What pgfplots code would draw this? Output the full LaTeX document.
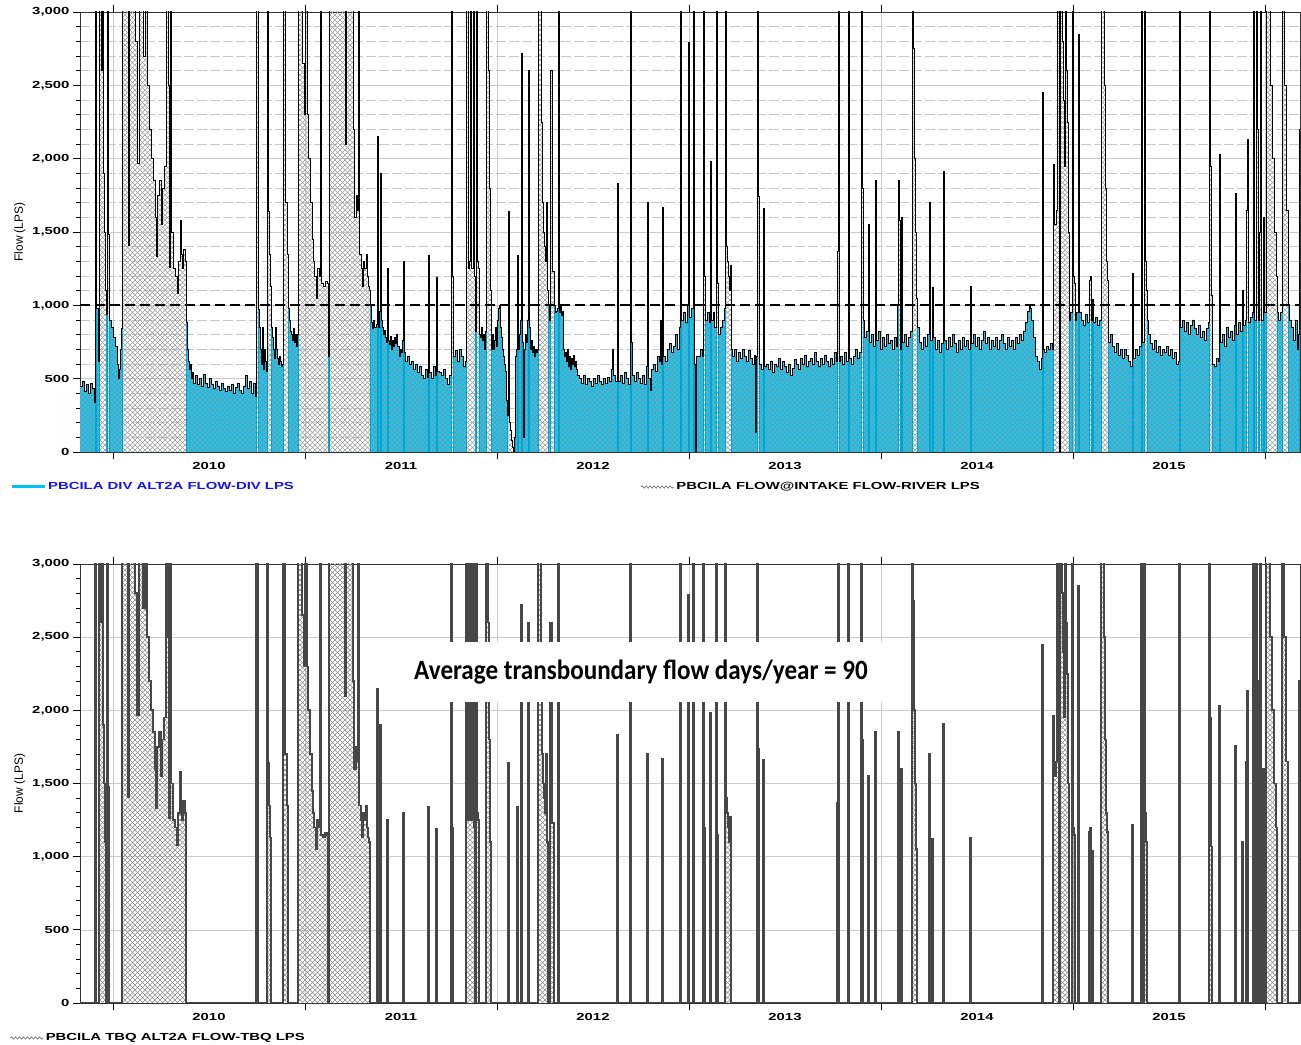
\documentclass[border=0pt]{standalone}
\usepackage{fontspec}
\setmainfont{Liberation Sans}
\newfontfamily\tickfont[FakeStretch=1.45]{Liberation Sans}
\newfontfamily\bigfont[FakeStretch=0.9]{Carlito}
\usepackage{pgfplots}
\pgfplotsset{compat=1.18}
\usepackage{pgfplotstable}
\usetikzlibrary{patterns,decorations.pathmorphing}

\definecolor{divblue}{RGB}{0,195,245}
\definecolor{legblue}{RGB}{20,20,240}

\pgfdeclarepatternformonly{xhatch}{\pgfqpoint{-1bp}{-1bp}}{\pgfqpoint{6bp}{6bp}}{\pgfqpoint{5bp}{5bp}}{%
 \pgfsetlinewidth{0.4bp}%
 \pgfpathmoveto{\pgfqpoint{0bp}{0bp}}\pgfpathlineto{\pgfqpoint{5.1bp}{5.1bp}}%
 \pgfpathmoveto{\pgfqpoint{0bp}{5bp}}\pgfpathlineto{\pgfqpoint{5.1bp}{-0.1bp}}%
 \pgfusepath{stroke}}

% x = position along the time axis (year boundaries at 113,305,497,689,881,1073,1265)
% r = river flow at intake, d = diversion flow, t = transboundary flow (LPS); 4000 = off scale
\pgfplotstableread{
x r d t
80 450 450 0
82 480 480 0
84 410 410 0
86 460 460 0
88 400 400 0
90 470 470 0
92 430 430 0
94 340 340 0
95 4000 0 4000
96 980 980 0
98 620 620 0
99 4000 0 4000
101 2600 0 2600
102 4000 0 4000
103 1900 0 1900
104 1500 0 1500
105 1100 0 1100
106 940 940 0
107 4000 0 4000
108 1480 0 1480
109 900 900 0
111 850 850 0
113 780 780 0
115 720 720 0
117 600 600 0
118 500 500 0
119 560 560 0
120 700 700 0
121 840 840 0
122 4000 0 4000
128 1410 0 1410
129 4000 0 4000
135 2800 0 2800
137 1970 0 1970
139 4000 0 4000
143 2700 0 2700
145 4000 0 4000
147 2500 0 2500
149 2200 0 2200
151 2000 0 2000
153 1850 0 1850
155 1600 0 1600
156 1330 0 1330
157 1750 0 1750
159 1850 0 1850
161 1550 0 1550
162 1800 0 1800
164 1950 0 1950
166 4000 0 4000
168 2500 0 2500
169 1260 0 1260
170 4000 0 4000
171 1500 0 1500
173 1250 0 1250
175 1200 0 1200
177 1080 0 1080
178 1300 0 1300
180 1580 0 1580
181 1350 0 1350
182 1250 0 1250
183 1380 0 1380
185 1300 0 1300
186 880 880 0
187 700 700 0
188 620 620 0
189 560 560 0
190 600 600 0
191 500 500 0
192 540 540 0
193 470 470 0
195 520 520 0
197 460 460 0
199 500 500 0
201 450 450 0
203 530 530 0
205 470 470 0
207 440 440 0
209 500 500 0
211 460 460 0
213 430 430 0
215 480 480 0
217 450 450 0
219 420 420 0
221 470 470 0
223 430 430 0
225 410 410 0
227 450 450 0
229 420 420 0
231 460 460 0
233 400 400 0
235 440 440 0
237 470 470 0
239 420 420 0
241 400 400 0
243 450 450 0
245 520 520 0
247 430 430 0
249 480 480 0
251 400 400 0
253 470 470 0
255 380 380 0
256 4000 0 4000
258 970 970 0
259 850 850 0
260 700 700 0
261 600 600 0
262 850 850 0
263 560 560 0
264 700 700 0
265 620 620 0
266 550 550 0
267 4000 0 4000
268 1640 0 1640
269 1350 0 1350
270 1130 0 1130
271 850 850 0
272 780 780 0
273 700 700 0
274 640 640 0
275 850 850 0
276 700 700 0
277 640 640 0
278 600 600 0
279 650 650 0
280 620 620 0
281 580 580 0
282 600 600 0
283 4000 0 4000
285 1700 0 1700
287 1350 0 1350
288 980 980 0
289 900 900 0
290 820 820 0
291 800 800 0
292 760 760 0
293 840 840 0
294 750 750 0
295 800 800 0
296 720 720 0
297 800 800 0
298 4000 0 4000
302 2650 0 2650
304 2300 0 2300
305 4000 0 4000
307 2300 0 2300
308 2000 0 2000
310 1700 0 1700
312 1450 0 1450
313 1300 0 1300
314 1200 0 1200
316 1050 0 1050
317 1250 0 1250
319 1200 0 1200
320 4000 0 4000
321 1150 0 1150
323 1130 0 1130
325 1160 0 1160
327 1150 0 1150
328 650 650 0
329 4000 0 4000
345 2100 0 2100
346 4000 0 4000
353 2200 0 2200
354 1600 0 1600
356 1750 0 1750
357 1650 0 1650
358 4000 0 4000
359 1350 0 1350
361 1250 0 1250
362 1130 0 1130
363 1300 0 1300
364 1250 0 1250
366 1350 0 1350
367 1200 0 1200
368 1130 0 1130
369 1100 0 1100
370 1000 1000 0
371 880 880 0
372 840 840 0
373 900 900 0
374 850 850 0
376 870 870 0
377 2150 0 2150
378 850 850 0
379 960 960 0
380 1900 0 1900
381 900 900 0
382 850 850 0
383 800 800 0
384 830 830 0
385 780 780 0
386 750 750 0
387 1250 0 1250
388 760 760 0
389 730 730 0
390 790 790 0
391 700 700 0
392 760 760 0
393 720 720 0
394 780 780 0
395 740 740 0
396 800 800 0
397 720 720 0
399 650 650 0
400 700 700 0
401 680 680 0
402 760 760 0
403 1300 0 1300
404 680 680 0
405 620 620 0
407 650 650 0
409 600 600 0
411 620 620 0
413 560 560 0
415 600 600 0
417 540 540 0
419 580 580 0
421 520 520 0
423 500 500 0
425 560 560 0
427 510 510 0
428 1340 0 1340
429 540 540 0
431 500 500 0
433 580 580 0
435 520 520 0
436 1190 0 1190
437 550 550 0
439 540 540 0
441 520 520 0
443 560 560 0
445 500 500 0
447 460 460 0
449 520 520 0
451 4000 0 4000
452 1200 0 1200
453 650 650 0
455 690 690 0
457 620 620 0
459 700 700 0
461 650 650 0
463 580 580 0
465 620 620 0
466 4000 0 4000
468 1250 0 1250
469 1300 0 1300
470 4000 0 4000
471 1250 0 1250
473 4000 0 4000
474 1200 0 1200
475 820 820 0
476 4000 0 4000
477 1300 0 1300
478 1250 0 1250
479 800 800 0
480 780 780 0
481 850 850 0
482 760 760 0
483 800 800 0
484 700 700 0
485 820 820 0
486 4000 0 4000
488 2600 0 2600
489 1800 0 1800
490 1100 0 1100
491 700 700 0
492 800 800 0
493 700 700 0
494 760 760 0
495 850 850 0
496 720 720 0
497 900 900 0
498 980 980 0
499 1000 1000 0
500 850 850 0
501 780 780 0
502 700 700 0
503 650 650 0
504 600 600 0
505 550 550 0
506 350 350 0
507 250 0 0
508 1640 0 1640
509 200 0 0
510 150 0 0
511 80 0 0
512 30 0 0
513 0 0 0
514 100 0 0
515 650 650 0
516 700 700 0
517 1340 0 1340
518 700 700 0
519 800 800 0
520 900 900 0
521 2720 0 2720
522 750 750 0
523 100 100 0
524 700 700 0
525 800 800 0
526 750 750 0
527 900 900 0
528 2600 0 2600
529 850 850 0
530 700 700 0
531 760 760 0
532 680 680 0
533 720 720 0
534 650 650 0
535 700 700 0
536 680 680 0
537 700 700 0
538 4000 0 4000
541 2250 0 2250
542 1700 0 1700
543 1500 0 1500
544 1400 0 1400
545 1300 0 1300
546 1700 0 1700
547 1100 0 1100
548 1000 1000 0
549 900 900 0
550 2600 0 2600
552 1230 0 1230
554 1000 1000 0
555 950 950 0
556 960 960 0
557 980 980 0
558 4000 0 4000
559 950 950 0
560 1000 1000 0
561 930 930 0
562 960 960 0
563 700 700 0
564 650 650 0
565 680 680 0
566 620 620 0
567 700 700 0
568 580 580 0
569 650 650 0
570 560 560 0
571 640 640 0
572 600 600 0
573 660 660 0
574 580 580 0
575 620 620 0
576 560 560 0
577 520 520 0
579 500 500 0
581 470 470 0
583 520 520 0
585 460 460 0
587 500 500 0
589 480 480 0
591 450 450 0
593 500 500 0
595 470 470 0
597 520 520 0
599 480 480 0
601 460 460 0
603 500 500 0
605 470 470 0
607 510 510 0
609 480 480 0
611 560 560 0
612 700 700 0
613 520 520 0
615 480 480 0
617 1830 0 1830
618 480 480 0
620 520 520 0
622 470 470 0
624 540 540 0
626 500 500 0
628 460 460 0
630 4000 0 4000
631 750 750 0
632 520 520 0
634 480 480 0
636 540 540 0
638 500 500 0
640 470 470 0
642 520 520 0
644 460 460 0
646 580 580 0
647 1700 0 1700
648 500 500 0
650 420 420 0
651 560 560 0
653 600 600 0
655 550 550 0
657 650 650 0
659 620 620 0
660 900 900 0
661 600 600 0
662 1670 0 1670
663 650 650 0
665 620 620 0
667 700 700 0
669 740 740 0
671 680 680 0
673 720 720 0
675 800 800 0
677 700 700 0
679 850 850 0
680 4000 0 4000
681 900 900 0
683 950 950 0
685 880 880 0
687 1000 1000 0
688 2790 0 2790
689 920 920 0
691 980 980 0
693 4000 0 4000
694 600 600 0
695 0 0 0
696 650 650 0
698 650 650 0
700 700 700 0
702 650 650 0
703 4000 0 4000
704 1200 0 1200
705 900 900 0
707 950 950 0
709 880 880 0
710 1980 0 1980
711 900 900 0
713 950 950 0
714 850 850 0
716 4000 0 4000
717 1150 0 1150
718 800 800 0
720 850 850 0
722 900 900 0
724 980 980 0
725 4000 0 4000
726 1400 0 1400
727 1300 0 1300
728 1200 0 1200
729 1100 0 1100
730 1270 0 1270
731 700 700 0
732 650 650 0
734 700 700 0
736 620 620 0
738 680 680 0
740 640 640 0
742 700 700 0
744 650 650 0
746 620 620 0
748 690 690 0
750 640 640 0
752 600 600 0
754 660 660 0
755 130 130 0
756 650 650 0
757 4000 0 4000
758 1740 0 1740
759 600 600 0
761 560 560 0
763 1660 0 1660
764 580 580 0
766 600 600 0
768 560 560 0
770 620 620 0
772 540 540 0
774 600 600 0
776 580 580 0
778 640 640 0
780 560 560 0
782 620 620 0
784 580 580 0
786 540 540 0
788 600 600 0
790 520 520 0
792 570 570 0
794 630 630 0
796 600 600 0
798 560 560 0
800 640 640 0
802 600 600 0
804 660 660 0
806 580 580 0
808 620 620 0
810 640 640 0
812 600 600 0
814 680 680 0
816 620 620 0
818 580 580 0
820 640 640 0
822 600 600 0
824 660 660 0
826 620 620 0
828 580 580 0
830 640 640 0
832 600 600 0
834 680 680 0
836 620 620 0
837 1370 0 1370
838 4000 0 4000
839 620 620 0
840 650 650 0
842 600 600 0
844 680 680 0
846 620 620 0
848 4000 0 4000
849 640 640 0
851 600 600 0
853 650 650 0
855 700 700 0
857 640 640 0
859 680 680 0
861 4000 0 4000
862 1800 0 1800
863 900 900 0
864 780 780 0
866 820 820 0
868 1550 0 1550
869 750 750 0
871 800 800 0
873 720 720 0
875 1850 0 1850
876 760 760 0
878 820 820 0
880 700 700 0
882 780 780 0
884 720 720 0
886 800 800 0
888 740 740 0
890 760 760 0
892 700 700 0
894 780 780 0
896 720 720 0
897 1000 1000 0
898 1850 0 1850
899 1580 0 1580
900 700 700 0
901 1600 0 1600
902 750 750 0
904 800 800 0
906 720 720 0
908 780 780 0
910 820 820 0
912 4000 0 4000
913 2750 0 2750
914 2000 0 2000
915 1500 0 1500
916 1050 0 1050
917 850 850 0
919 750 750 0
921 700 700 0
923 780 780 0
925 720 720 0
927 800 800 0
929 1700 0 1700
930 760 760 0
932 1120 0 1120
933 780 780 0
935 700 700 0
937 760 760 0
939 680 680 0
941 740 740 0
943 1910 0 1910
944 760 760 0
946 700 700 0
948 780 780 0
950 720 720 0
952 800 800 0
954 740 740 0
956 680 680 0
958 760 760 0
960 700 700 0
962 780 780 0
964 720 720 0
966 760 760 0
968 700 700 0
970 1130 0 1130
971 740 740 0
973 800 800 0
975 720 720 0
977 780 780 0
979 700 700 0
981 760 760 0
983 820 820 0
985 740 740 0
987 780 780 0
989 700 700 0
991 760 760 0
993 720 720 0
995 780 780 0
997 700 700 0
999 760 760 0
1001 800 800 0
1003 740 740 0
1005 700 700 0
1007 780 780 0
1009 720 720 0
1011 760 760 0
1013 700 700 0
1015 780 780 0
1017 740 740 0
1019 800 800 0
1021 760 760 0
1023 820 820 0
1025 880 880 0
1027 960 960 0
1029 1000 1000 0
1030 980 980 0
1031 900 900 0
1033 780 780 0
1035 650 650 0
1037 620 620 0
1039 560 560 0
1041 640 640 0
1042 2450 0 2450
1043 700 700 0
1044 680 680 0
1046 720 720 0
1048 700 700 0
1050 740 740 0
1052 700 700 0
1053 1960 0 1960
1054 1550 0 1550
1056 1650 0 1650
1057 4000 0 4000
1059 0 0 0
1060 4000 0 4000
1062 2800 0 2800
1063 2400 0 2400
1064 1950 0 1950
1065 4000 0 4000
1066 2600 0 2600
1067 2250 0 2250
1068 1500 0 1500
1069 900 900 0
1070 950 950 0
1072 4000 0 4000
1073 1200 0 1200
1074 1150 0 1150
1075 900 900 0
1076 950 950 0
1078 2850 0 2850
1079 950 950 0
1081 900 900 0
1083 860 860 0
1085 940 940 0
1087 880 880 0
1089 1170 0 1170
1090 1200 0 1200
1091 900 900 0
1092 1040 0 1040
1093 880 880 0
1095 920 920 0
1097 860 860 0
1099 900 900 0
1101 4000 0 4000
1104 2500 0 2500
1105 1800 0 1800
1106 1300 0 1300
1107 1170 0 1170
1108 750 750 0
1110 800 800 0
1112 720 720 0
1114 680 680 0
1116 740 740 0
1118 660 660 0
1120 700 700 0
1122 640 640 0
1124 700 700 0
1126 660 660 0
1128 620 620 0
1130 580 580 0
1132 1220 0 1220
1133 640 640 0
1135 700 700 0
1137 660 660 0
1139 720 720 0
1141 4000 0 4000
1142 750 750 0
1144 4000 0 4000
1145 1300 0 1300
1146 1100 0 1100
1147 900 900 0
1148 800 800 0
1150 740 740 0
1152 700 700 0
1154 760 760 0
1156 680 680 0
1158 720 720 0
1160 660 660 0
1162 700 700 0
1164 680 680 0
1166 720 720 0
1168 660 660 0
1170 700 700 0
1172 640 640 0
1174 680 680 0
1176 600 600 0
1178 620 620 0
1179 4000 0 4000
1180 850 850 0
1182 900 900 0
1184 820 820 0
1186 880 880 0
1188 800 800 0
1190 860 860 0
1192 900 900 0
1194 840 840 0
1196 800 800 0
1198 860 860 0
1200 780 780 0
1202 820 820 0
1204 760 760 0
1206 840 840 0
1208 880 880 0
1209 4000 0 4000
1210 1950 0 1950
1211 1070 0 1070
1212 600 600 0
1214 580 580 0
1216 640 640 0
1218 620 620 0
1219 2030 0 2030
1220 750 750 0
1222 800 800 0
1224 720 720 0
1226 850 850 0
1228 780 780 0
1230 820 820 0
1232 760 760 0
1234 860 860 0
1235 1760 0 1760
1236 800 800 0
1238 880 880 0
1240 820 820 0
1242 1100 0 1100
1243 860 860 0
1245 900 900 0
1246 1650 0 1650
1247 2130 0 2130
1248 880 880 0
1250 920 920 0
1252 950 950 0
1253 4000 0 4000
1254 900 900 0
1256 4000 0 4000
1257 2200 0 2200
1258 900 900 0
1259 1500 0 1500
1260 4000 0 4000
1261 900 900 0
1263 1600 0 1600
1264 950 950 0
1266 4000 0 4000
1270 2500 0 2500
1272 2000 0 2000
1274 1500 0 1500
1276 1200 0 1200
1277 950 950 0
1278 900 900 0
1280 950 950 0
1282 4000 0 4000
1284 2500 0 2500
1286 1650 0 1650
1288 1000 1000 0
1289 900 900 0
1291 850 850 0
1293 760 760 0
1295 900 900 0
1297 700 700 0
1298 800 800 0
1299 2200 0 2200
1300 2200 0 2200
}\flow

\newcommand{\tickfnt}{\tickfont\bfseries\fontsize{10.3}{12}\selectfont}

\pgfplotsset{
 flowaxis/.style={
  scale only axis, width=1220bp,
  xmin=80, xmax=1300, ymin=0, ymax=3000,
  xtick={113,305,497,689,881,1073,1265},
  xticklabels={2010,2011,2012,2013,2014,2015},
  x tick label as interval,
  ytick={0,500,...,3000},
  minor ytick={0,100,...,3000},
  tick align=outside,
  major tick length=7bp, minor tick length=4bp,
  tick style={black, line width=0.7bp},
  tick label style={font=\tickfnt},
  /pgf/number format/1000 sep={,},
  /pgf/number format/assume math mode=true,
  scaled y ticks=false,
  axis line style={black!80, line width=0.7bp},
  ylabel={Flow (LPS)},
  ylabel style={font=\fontsize{12}{14}\selectfont},
  legend cell align=left,
 }
}

\begin{document}
\begin{tikzpicture}
% ---------------- top panel ----------------
\begin{axis}[flowaxis,
  at={(80bp,593bp)}, anchor=south west, height=440bp,
  grid=both,
  major grid style={black!20, line width=0.6bp},
  minor grid style={black!22, line width=0.6bp, dash pattern=on 10bp off 3bp},
  legend style={at={(axis description cs:-0.0574,-0.0795)}, anchor=west,
    draw=none, fill=none, inner sep=0pt, font=\tickfnt,
    legend columns=2,
    /tikz/every even column/.append style={column sep=345bp}},
]
\addplot[const plot, fill=divblue, draw=none, forget plot] table[x=x,y=d]{\flow} \closedcycle;
\addplot[const plot, pattern=xhatch, pattern color=black!38, draw=none, forget plot] table[x=x,y=r]{\flow} \closedcycle;
\addplot[const plot, divblue!85!black, line width=0.8bp, forget plot] table[x=x,y=d]{\flow};
\addplot[const plot, black, line width=0.9bp, forget plot] table[x=x,y=r]{\flow};
\addplot[black, line width=2bp, dash pattern=on 10bp off 5bp, forget plot] coordinates {(80,1000) (1300,1000)};
\addlegendimage{legend image code/.code={\draw[divblue, line width=3bp] (0bp,0bp) -- (33bp,0bp);}}
\addlegendentry{\textcolor{legblue}{PBCILA DIV ALT2A FLOW-DIV LPS}}
\addlegendimage{legend image code/.code={\draw[black!60, line width=0.6bp, decorate, decoration={zigzag, segment length=4bp, amplitude=1.2bp}] (0bp,0bp) -- (33bp,0bp);}}
\addlegendentry{PBCILA FLOW@INTAKE FLOW-RIVER LPS}
\end{axis}
% ---------------- bottom panel ----------------
\begin{axis}[flowaxis,
  at={(80bp,42bp)}, anchor=south west, height=439bp,
  xmajorgrids, ymajorgrids,
  major grid style={black!20, line width=0.6bp},
  legend style={at={(axis description cs:-0.0574,-0.0797)}, anchor=west,
    draw=none, fill=none, inner sep=0pt, font=\tickfnt},
]
\addplot[const plot, pattern=xhatch, pattern color=black!45, draw=none, forget plot] table[x=x,y=t]{\flow} \closedcycle;
\addplot[const plot, black!72, line width=1.7bp, forget plot] table[x=x,y=t]{\flow};
\addlegendimage{legend image code/.code={\draw[black!60, line width=0.6bp, decorate, decoration={zigzag, segment length=4bp, amplitude=1.2bp}] (0bp,0bp) -- (33bp,0bp);}}
\addlegendentry{PBCILA TBQ ALT2A FLOW-TBQ LPS}
\node[fill=white, inner sep=0pt, minimum width=483bp, minimum height=60bp,
      font=\bigfont\bfseries\fontsize{28}{30}\selectfont] at (axis cs:641,2262)
      {Average transboundary flow days/year = 90};
\end{axis}
\pgfresetboundingbox
\path[use as bounding box] (0bp,0bp) rectangle (1301bp,1045bp);
\end{tikzpicture}
\end{document}
